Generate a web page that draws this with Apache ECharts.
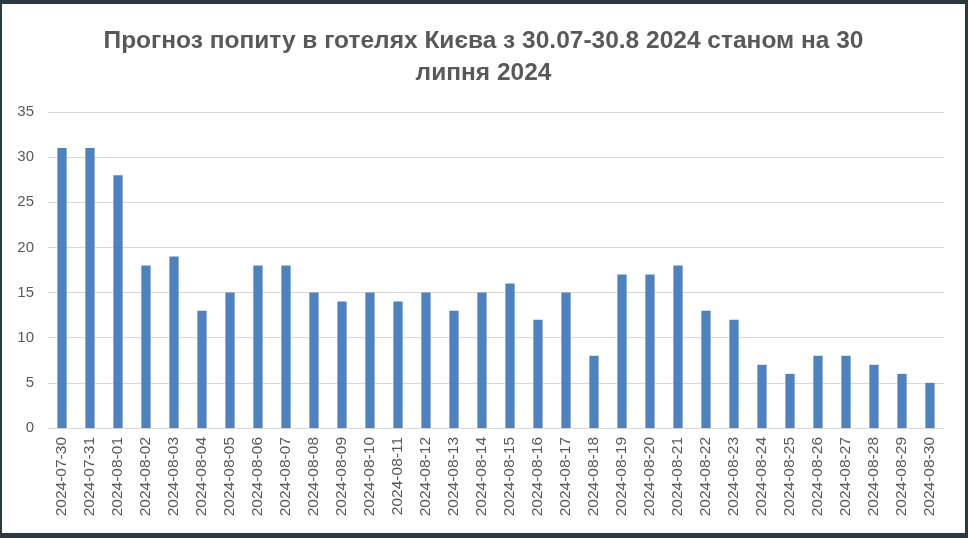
<!DOCTYPE html>
<html><head><meta charset="utf-8">
<script src="https://cdn.jsdelivr.net/npm/echarts@6/dist/echarts.min.js"></script>
<style>
html,body{margin:0;padding:0;background:#2b3a42;}
#frame{position:absolute;left:2px;top:4px;width:963px;height:529px;background:#fff;}
#chart{width:963px;height:529px;}
</style></head><body>
<div id="frame"><div id="chart"></div></div>
<script>
const categories = ['2024-07-30','2024-07-31','2024-08-01','2024-08-02','2024-08-03','2024-08-04','2024-08-05','2024-08-06','2024-08-07','2024-08-08','2024-08-09','2024-08-10','2024-08-11','2024-08-12','2024-08-13','2024-08-14','2024-08-15','2024-08-16','2024-08-17','2024-08-18','2024-08-19','2024-08-20','2024-08-21','2024-08-22','2024-08-23','2024-08-24','2024-08-25','2024-08-26','2024-08-27','2024-08-28','2024-08-29','2024-08-30'];
const values = [31,31,28,18,19,13,15,18,18,15,14,15,14,15,13,15,16,12,15,8,17,17,18,13,12,7,6,8,8,7,6,5];
const titleText = 'Прогноз попиту в готелях Києва з 30.07-30.8 2024 станом на 30\nлипня 2024';

const chart = echarts.init(document.getElementById('chart'));
chart.setOption({
  animation:false,
  title:{text:titleText,left:'center',top:16,textStyle:{fontFamily:'Liberation Sans',fontWeight:'bold',fontSize:24.5,color:'#595959',lineHeight:32}},
  grid:{left:46,right:21,top:108,bottom:105},
  xAxis:{type:'category',data:categories,
    axisLine:{lineStyle:{color:'#d9d9d9'}},axisTick:{show:false},
    axisLabel:{rotate:90,interval:0,color:'#595959',fontSize:15.5,fontFamily:'Liberation Sans',margin:9}},
  yAxis:{type:'value',min:0,max:35,interval:5,
    axisLine:{show:false},axisTick:{show:false},
    splitLine:{lineStyle:{color:'#d9d9d9'}},
    axisLabel:{color:'#595959',fontSize:15,fontFamily:'Liberation Sans',margin:14}},
  series:[{type:'bar',data:values,barWidth:'33%',itemStyle:{color:'#4f81bd'}}]
});
</script></body></html>
